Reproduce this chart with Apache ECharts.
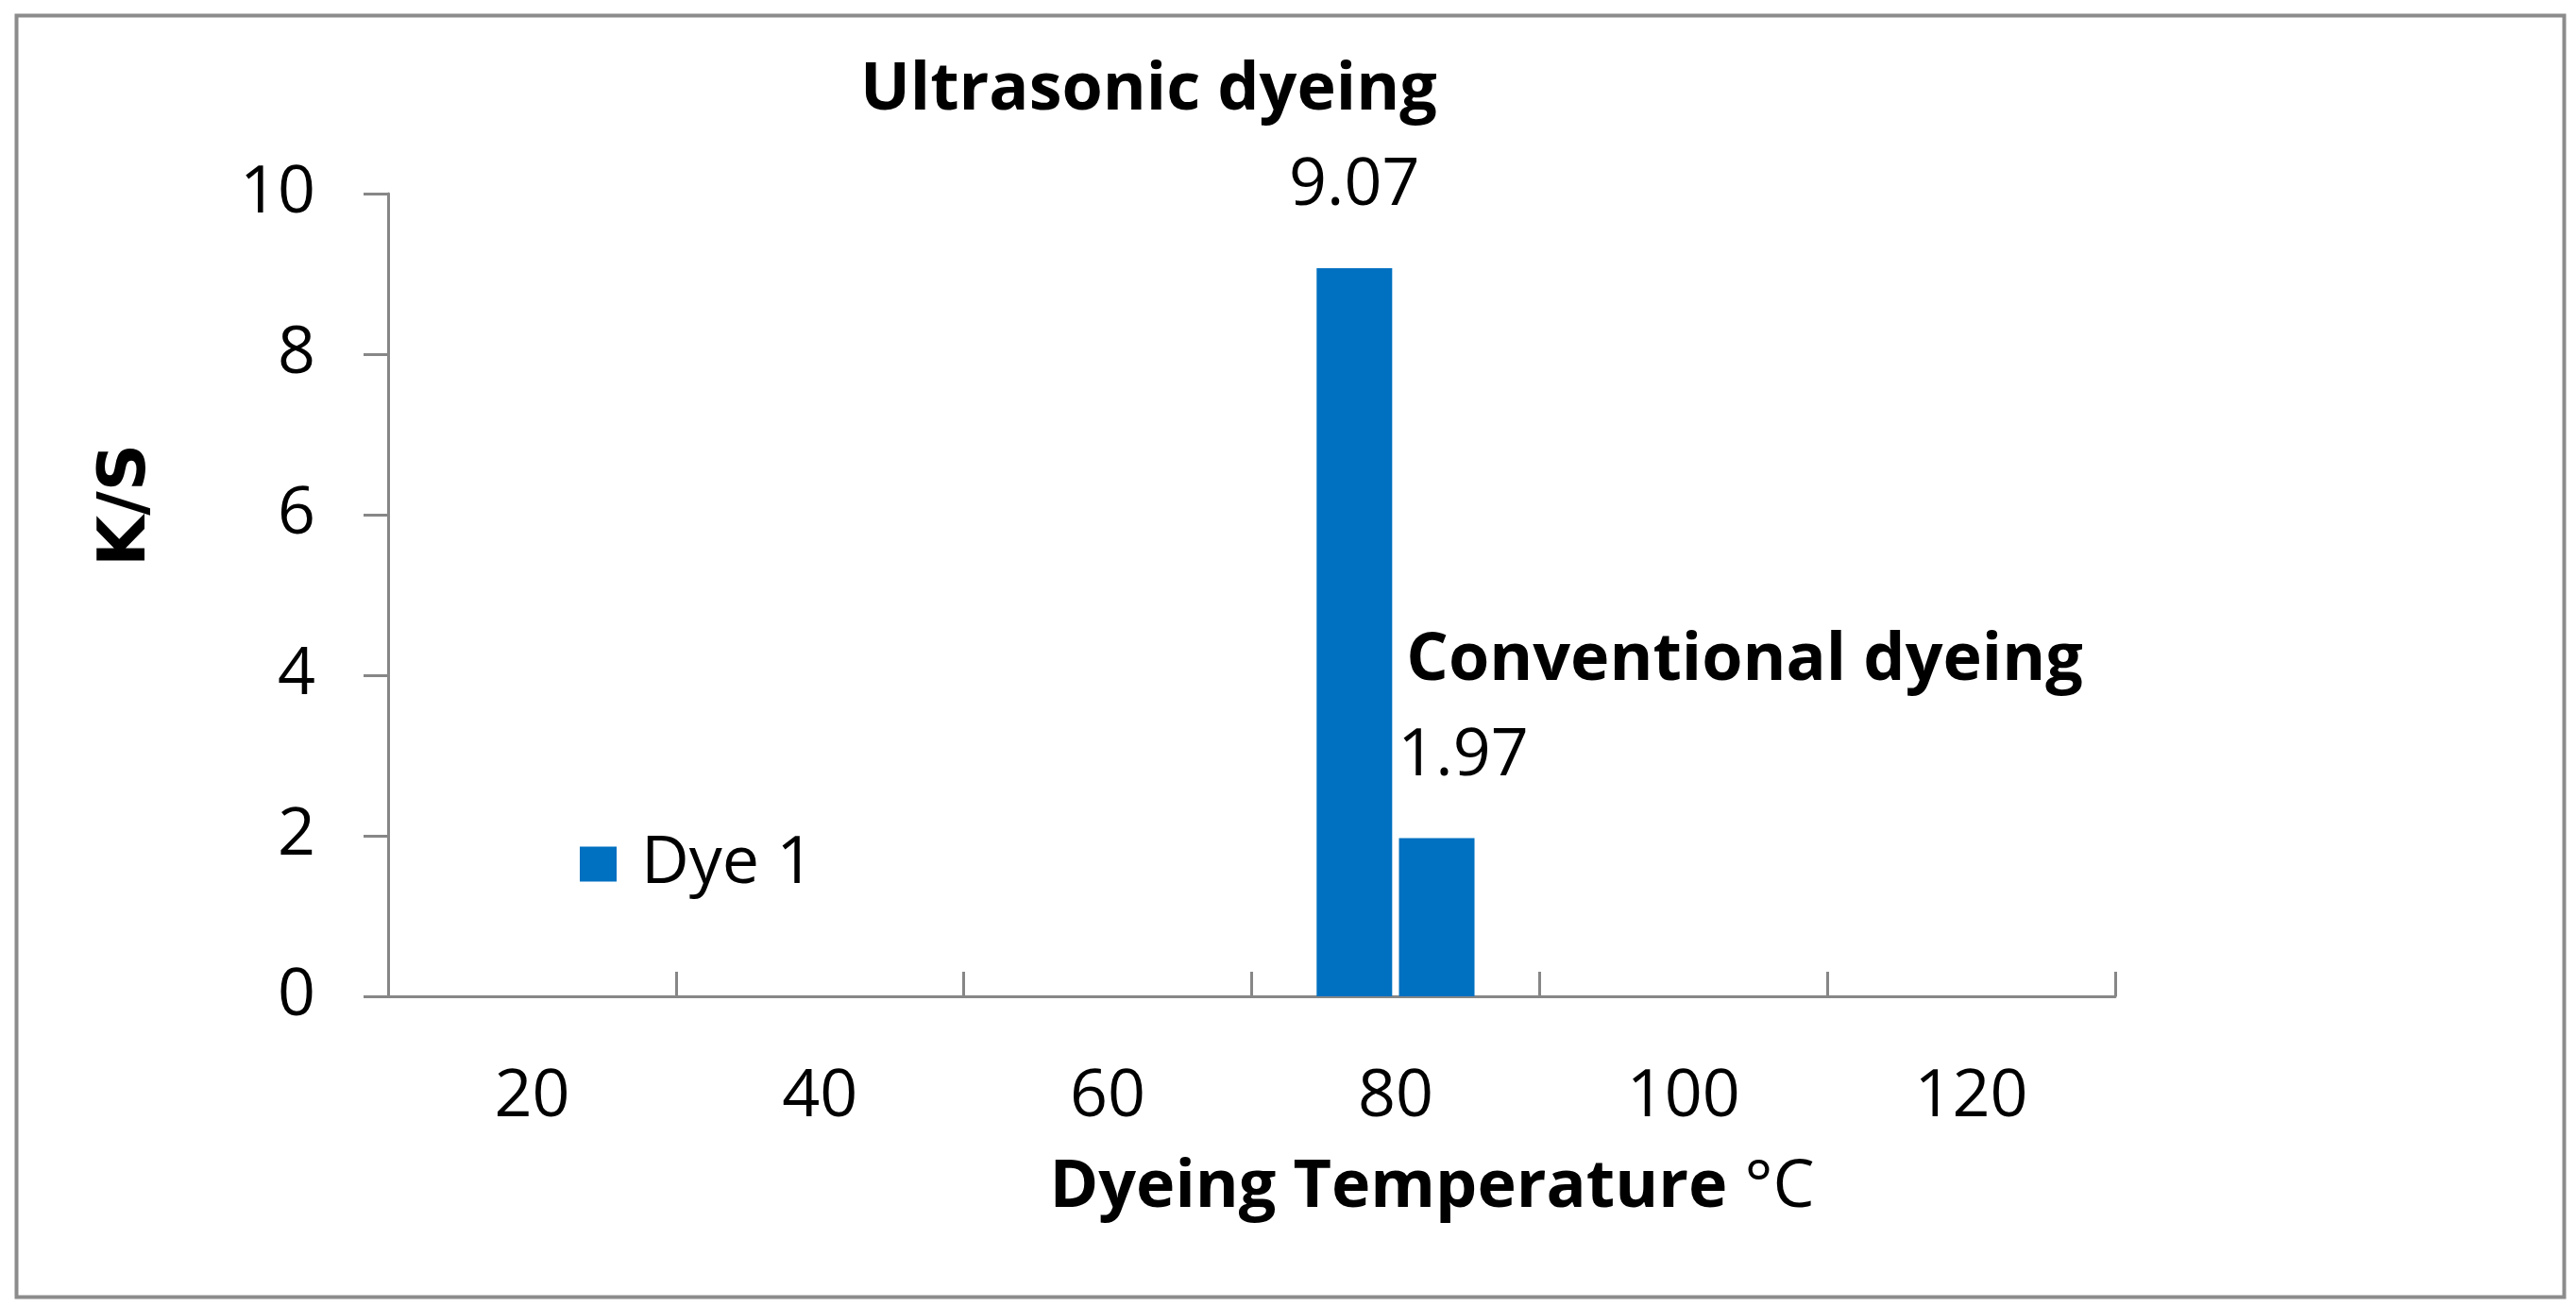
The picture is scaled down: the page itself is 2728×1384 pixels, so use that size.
<!DOCTYPE html>
<html>
<head>
<meta charset="utf-8">
<script src="https://cdn.jsdelivr.net/npm/echarts@6/dist/echarts.min.js"></script>
<style>
html,body{margin:0;padding:0;background:#fff;}
#chart{width:2728px;height:1384px;}
</style>
</head>
<body>
<div id="chart"></div>
<script>
// ---- data ----
const categories = ['20', '40', '60', '80', '100', '120'];
const ultrasonicValues = [null, null, null, 9.07, null, null];
const conventionalValues = [null, null, null, 1.97, null, null];
const seriesNames = ['Dye 1', 'Conventional'];
const annotations = ['Ultrasonic dyeing', 'Conventional dyeing'];
const yAxisRange = { min: 0, max: 10, interval: 2 };
const xAxisTitle = 'Dyeing Temperature ';
const xAxisUnit = '°C';
const yAxisTitle = 'K/S';

// ---- style ----
const FONT = 'Open Sans';
const GRAY = '#878787';
const BAR = '#0070C0';

const chart = echarts.init(document.getElementById('chart'), null, { renderer: 'canvas' });

function labelFor(idx, padding) {
  return {
    show: true,
    position: 'top',
    distance: 36,
    color: '#000',
    formatter: function (p) {
      return '{n|' + annotations[idx] + '}\n{v|' + Number(p.value).toFixed(2) + '}';
    },
    rich: {
      n: { fontFamily: FONT, fontSize: 70, fontWeight: 'bold', lineHeight: 101, align: 'center', color: '#000', padding: padding },
      v: { fontFamily: FONT, fontSize: 70, lineHeight: 101, align: 'center', color: '#000' }
    }
  };
}

const option = {
  animation: false,
  backgroundColor: '#fff',
  grid: { left: 411, right: 488, top: 205, bottom: 329, containLabel: false },
  legend: {
    data: [seriesNames[0]],
    left: 609,
    top: 875,
    icon: 'rect',
    itemWidth: 39,
    itemHeight: 37,
    textStyle: { fontFamily: FONT, fontSize: 70, color: '#000', padding: [0, 0, 0, 21] }
  },
  xAxis: {
    type: 'category',
    data: categories,
    boundaryGap: true,
    axisLine: { show: true, lineStyle: { color: GRAY, width: 3 } },
    axisTick: { show: true, inside: true, length: 26, interval: 0, alignWithLabel: false, lineStyle: { color: GRAY, width: 3 } },
    axisLabel: { interval: 0, margin: 107, verticalAlign: 'middle', fontFamily: FONT, fontSize: 70, color: '#000' },
    splitLine: { show: false },
    name: '{b|' + xAxisTitle + '}{r|' + xAxisUnit + '}',
    nameLocation: 'middle',
    nameGap: 203,
    nameTextStyle: {
      verticalAlign: 'middle',
      padding: [0, 0, 0, 382],
      rich: {
        b: { fontFamily: FONT, fontSize: 70, fontWeight: 'bold', color: '#000' },
        r: { fontFamily: FONT, fontSize: 70, color: '#000' }
      }
    }
  },
  yAxis: {
    type: 'value',
    min: yAxisRange.min,
    max: yAxisRange.max,
    interval: yAxisRange.interval,
    axisLine: { show: true, lineStyle: { color: GRAY, width: 3 } },
    axisTick: { show: true, inside: false, length: 26, lineStyle: { color: GRAY, width: 3 } },
    axisLabel: { margin: 77, fontFamily: FONT, fontSize: 70, color: '#000' },
    splitLine: { show: false }
  },
  graphic: [
    {
      type: 'rect',
      left: 15, top: 14,
      shape: { x: 0, y: 0, width: 2698, height: 1357 },
      style: { fill: null, stroke: '#8c8c8c', lineWidth: 4 },
      silent: true
    },
    {
      type: 'text',
      x: 135, y: 535,
      rotation: Math.PI / 2,
      style: { text: yAxisTitle, fontFamily: 'DejaVu Sans', fontWeight: 'bold', fontSize: 70, fill: '#000', align: 'center', verticalAlign: 'middle' },
      silent: true
    }
  ],
  series: [
    {
      name: seriesNames[0],
      type: 'bar',
      data: ultrasonicValues,
      barWidth: 80,
      barGap: '9%',
      itemStyle: { color: BAR },
      label: labelFor(0, [0, 436, 0, 0])
    },
    {
      name: seriesNames[1],
      type: 'bar',
      data: conventionalValues,
      barWidth: 80,
      barGap: '9%',
      itemStyle: { color: BAR },
      label: Object.assign(labelFor(1, [0, 0, 0, 596]), { offset: [28, 0] })
    }
  ]
};
chart.setOption(option);
</script>
</body>
</html>
